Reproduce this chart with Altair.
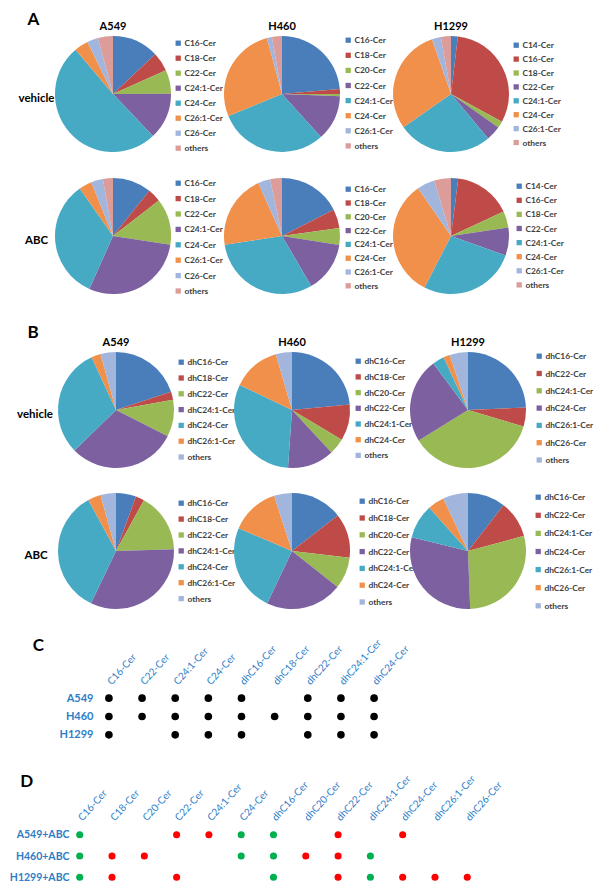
import altair as alt
import pandas as pd

FONT = "Lato"
BLUE = "#2E7DC6"
PALETTE = ["#4A7EBB", "#BE4B48", "#98B954", "#7D60A0", "#46AAC5", "#F0904A", "#A2B5DD", "#DB9C9A"]

# ---------------- Panel A: ceramide composition (%) ----------------
A_labels_A549 = ["C16-Cer", "C18-Cer", "C22-Cer", "C24:1-Cer", "C24-Cer", "C26:1-Cer", "C26-Cer", "others"]
A_labels_H460 = ["C16-Cer", "C18-Cer", "C20-Cer", "C22-Cer", "C24:1-Cer", "C24-Cer", "C26:1-Cer", "others"]
A_labels_H1299 = ["C14-Cer", "C16-Cer", "C18-Cer", "C22-Cer", "C24:1-Cer", "C24-Cer", "C26:1-Cer", "others"]

A549_vehicle_A = [13.0, 5.3, 6.7, 13.0, 51.0, 3.9, 3.1, 4.2]
H460_vehicle_A = [23.6, 1.4, 0.6, 12.7, 30.5, 27.0, 1.4, 2.8]
H1299_vehicle_A = [1.9, 31.0, 1.9, 4.1, 26.3, 29.4, 2.5, 2.8]
A549_ABC_A = [10.8, 3.7, 12.9, 29.3, 33.6, 3.6, 3.3, 2.8]
H460_ABC_A = [17.5, 5.3, 4.7, 14.1, 31.0, 20.7, 3.4, 3.3]
H1299_ABC_A = [2.0, 16.1, 4.6, 7.8, 27.1, 32.9, 4.9, 4.7]

# ---------------- Panel B: dihydroceramide composition (%) ----------------
B_labels_A549 = ["dhC16-Cer", "dhC18-Cer", "dhC22-Cer", "dhC24:1-Cer", "dhC24-Cer", "dhC26:1-Cer", "others"]
B_labels_H460 = ["dhC16-Cer", "dhC18-Cer", "dhC20-Cer", "dhC22-Cer", "dhC24:1-Cer", "dhC24-Cer", "others"]
B_labels_H1299 = ["dhC16-Cer", "dhC22-Cer", "dhC24:1-Cer", "dhC24-Cer", "dhC26:1-Cer", "dhC26-Cer", "others"]

A549_vehicle_B = [19.9, 2.3, 10.3, 30.2, 30.4, 2.6, 4.3]
H460_vehicle_B = [23.5, 10.1, 4.5, 13.0, 31.0, 13.4, 4.5]
H1299_vehicle_B = [24.3, 5.3, 36.6, 23.6, 3.3, 1.8, 5.1]
A549_ABC_B = [5.6, 2.4, 16.5, 32.6, 35.0, 3.6, 4.3]
H460_ABC_B = [14.5, 12.4, 8.8, 21.4, 24.4, 13.6, 5.0]
H1299_ABC_B = [10.5, 10.3, 28.6, 29.4, 9.6, 4.6, 7.0]

cells = ["A549", "H460", "H1299"]
treatments = ["vehicle", "ABC"]

# ---------------- Panel C ----------------
C_cols = ["C16-Cer", "C22-Cer", "C24:1-Cer", "C24-Cer", "dhC16-Cer", "dhC18-Cer",
          "dhC22-Cer", "dhC24:1-Cer", "dhC24-Cer"]
C_rows = ["A549", "H460", "H1299"]
C_A549 = [1, 1, 1, 1, 1, 0, 1, 1, 1]
C_H460 = [1, 1, 1, 1, 1, 1, 1, 1, 1]
C_H1299 = [1, 0, 1, 1, 1, 0, 1, 1, 1]

# ---------------- Panel D ----------------
D_cols = ["C16-Cer", "C18-Cer", "C20-Cer", "C22-Cer", "C24:1-Cer", "C24-Cer", "dhC16-Cer",
          "dhC20-Cer", "dhC22-Cer", "dhC24:1-Cer", "dhC24-Cer", "dhC26:1-Cer", "dhC26-Cer"]
D_rows = ["A549+ABC", "H460+ABC", "H1299+ABC"]
D_A549 = ["down", "", "", "up", "up", "down", "down", "", "up", "", "up", "", ""]
D_H460 = ["down", "up", "up", "", "", "down", "down", "up", "up", "down", "", "", ""]
D_H1299 = ["down", "up", "", "up", "", "", "down", "", "up", "down", "up", "up", "up"]


def pie(labels, values, lx, ly, step):
    df = pd.DataFrame({"lipid": labels, "percent": values, "k": list(range(len(labels)))})
    return alt.Chart(df).mark_arc(radius=58).encode(
        theta=alt.Theta("percent:Q", stack=True),
        order=alt.Order("k:Q", sort="ascending"),
        color=alt.Color(
            "lipid:N", sort=labels,
            scale=alt.Scale(domain=labels, range=PALETTE[:len(labels)]),
            legend=alt.Legend(
                title=None, orient="none", legendX=lx, legendY=ly,
                symbolType="square", symbolSize=28, symbolStrokeWidth=0,
                labelFont=FONT, labelFontSize=8.4, labelFontWeight="bold",
                labelColor="#404040", labelOffset=2, rowPadding=step - 8.4,
                padding=0, labelLimit=100,
            ),
        ),
    ).properties(width=116, height=116)


def text_cell(txt, w, h, size, dy=0, dx=0):
    return alt.Chart(pd.DataFrame({"t": [txt]})).mark_text(
        font=FONT, fontSize=size, fontWeight="bold", color="black", dx=dx, dy=dy
    ).encode(text="t:N").properties(width=w, height=h)


def header_row(letter, W0, sp, letter_dx, letter_dy):
    hdrs = [text_cell(c, 116, 12, 11) for c in cells]
    inner = alt.hconcat(*hdrs, spacing=sp, bounds="flush")
    return alt.hconcat(text_cell(letter, W0, 12, 17, dx=letter_dx, dy=letter_dy), inner, spacing=0)


def pie_row(label, pies, W0, sp, dx):
    inner = alt.hconcat(*pies, spacing=sp, bounds="flush").resolve_scale(color="independent")
    return alt.hconcat(text_cell(label, W0, 116, 11.5, dx=dx, dy=5), inner, spacing=0).resolve_scale(color="independent")


W0A, SPA = 47, 53
W0B, SPB = 50, 60

rowAv = pie_row(treatments[0], [
    pie(A_labels_A549, A549_vehicle_A, 119, 3, 14.4),
    pie(A_labels_H460, H460_vehicle_A, 120, 0, 14.5),
    pie(A_labels_H1299, H1299_vehicle_A, 119, 5, 13.3),
], W0A, SPA, 5)
rowAa = pie_row(treatments[1], [
    pie(A_labels_A549, A549_ABC_A, 119, 1, 14.8),
    pie(A_labels_H460, H460_ABC_A, 120, 7, 13.2),
    pie(A_labels_H1299, H1299_ABC_A, 122, 4, 13.5),
], W0A, SPA, 5)
rowBv = pie_row(treatments[0], [
    pie(B_labels_A549, A549_vehicle_B, 119, 6, 15.2),
    pie(B_labels_H460, H460_vehicle_B, 120, 5, 15.1),
    pie(B_labels_H1299, H1299_vehicle_B, 125, 0, 16.7),
], W0B, SPB, 2)
rowBa = pie_row(treatments[1], [
    pie(B_labels_A549, A549_ABC_B, 119, 6, 15.3),
    pie(B_labels_H460, H460_ABC_B, 124, 4, 16.2),
    pie(B_labels_H1299, H1299_ABC_B, 124, 0, 17.5),
], W0B, SPB, 3)

panelA = alt.vconcat(header_row("A", W0A, SPA, 2, -7),
                     alt.vconcat(rowAv, rowAa, spacing=25).resolve_scale(color="independent"),
                     spacing=3).resolve_scale(color="independent")
panelB = alt.vconcat(header_row("B", W0B, SPB, 0, -10),
                     alt.vconcat(rowBv, rowBa, spacing=25).resolve_scale(color="independent"),
                     spacing=3).resolve_scale(color="independent")

# Panel C
recC = []
for r, flags in zip(C_rows, [C_A549, C_H460, C_H1299]):
    for c, f in zip(C_cols, flags):
        if f:
            recC.append({"cell": r, "lipid": c})
dfC = pd.DataFrame(recC)

axis_common = dict(title=None, ticks=False, domain=False, grid=False, labelColor=BLUE, labelFont=FONT)

scC = alt.Chart(dfC).mark_circle(size=58, color="black", opacity=1).encode(
    x=alt.X("lipid:N", scale=alt.Scale(type="point", domain=C_cols, padding=0.45),
            axis=alt.Axis(orient="top", labelAngle=-48, labelAlign="left", labelBaseline="middle",
                          labelFontSize=10, labelPadding=6, labelOverlap=False, **axis_common)),
    y=alt.Y("cell:N", scale=alt.Scale(type="point", domain=C_rows, padding=0.5),
            axis=alt.Axis(labelFontSize=11, labelFontWeight="bold", labelPadding=1, **axis_common)),
).properties(width=295, height=55)
panelC = alt.hconcat(text_cell("C", 50.6, 55, 17, dx=5, dy=-71), scC, spacing=0)

# Panel D
recD = []
for r, flags in zip(D_rows, [D_A549, D_H460, D_H1299]):
    for c, f in zip(D_cols, flags):
        if f:
            recD.append({"cell": r, "lipid": c, "change": f})
dfD = pd.DataFrame(recD)

scD = alt.Chart(dfD).mark_circle(size=50, opacity=1).encode(
    x=alt.X("lipid:N", scale=alt.Scale(type="point", domain=D_cols, padding=0.27),
            axis=alt.Axis(orient="top", labelAngle=-48, labelAlign="left", labelBaseline="middle",
                          labelFontSize=10, labelPadding=5, labelOverlap=False, **axis_common)),
    y=alt.Y("cell:N", scale=alt.Scale(type="point", domain=D_rows, padding=0.5),
            axis=alt.Axis(labelFontSize=10.5, labelFontWeight="bold", labelPadding=2, **axis_common)),
    color=alt.Color("change:N", scale=alt.Scale(domain=["down", "up"], range=["#00B050", "#FF0000"]),
                    legend=None),
).properties(width=405, height=64,
             title=alt.TitleParams("D", anchor="start", fontSize=17, font=FONT, fontWeight="bold",
                                   dx=11, offset=-18, color="black"))
panelD = alt.hconcat(text_cell("", 1, 64, 10), scD, spacing=0).resolve_scale(color="independent")

chart = alt.vconcat(
    alt.vconcat(panelA, panelB, spacing=28).resolve_scale(color="independent"),
    alt.vconcat(panelC, panelD, spacing=29).resolve_scale(color="independent"),
    spacing=25,
).resolve_scale(color="independent").properties(
    padding={"left": 0, "top": 3, "right": 0, "bottom": 0}
).configure(font=FONT).configure_view(strokeWidth=0)

chart.save("out.html", embed_options={"renderer": "svg", "actions": False})
